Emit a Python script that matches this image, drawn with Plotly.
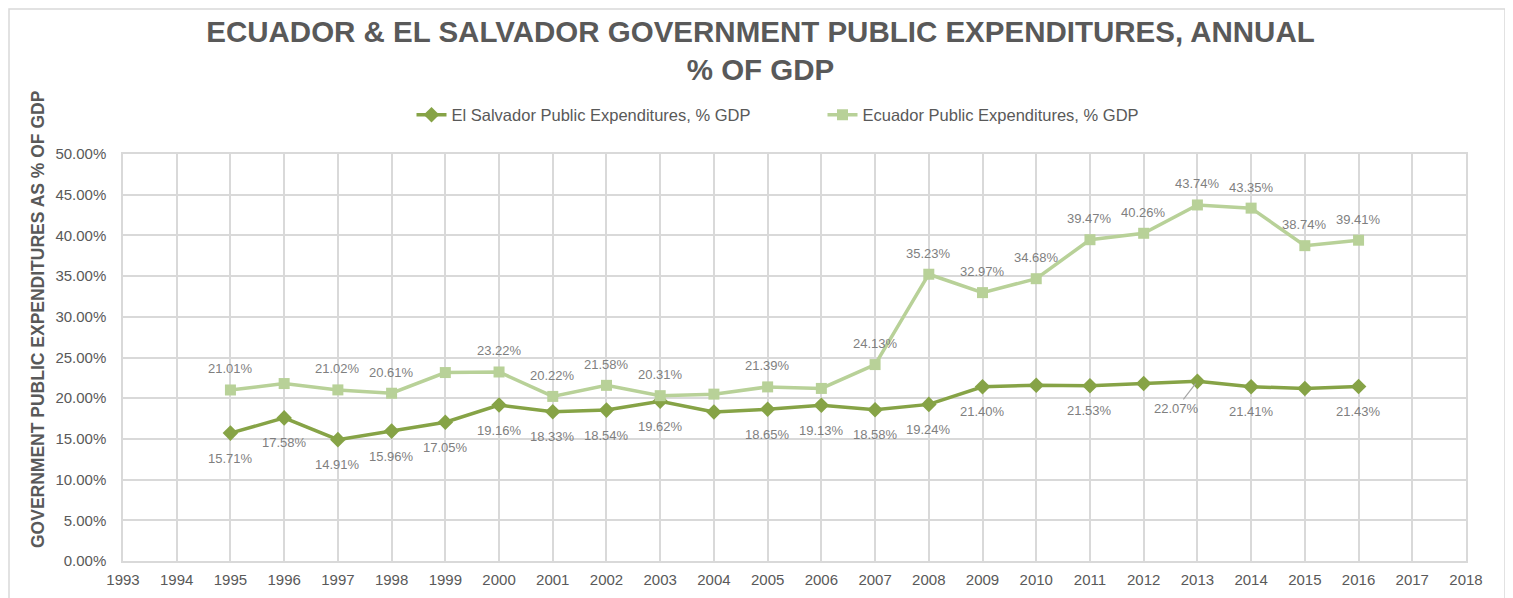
import plotly.graph_objects as go

years = list(range(1995, 2017))
el_salvador = [15.71, 17.58, 14.91, 15.96, 17.05, 19.16, 18.33, 18.54, 19.62, 18.30,
               18.65, 19.13, 18.58, 19.24, 21.40, 21.60, 21.53, 21.80, 22.07, 21.41, 21.20, 21.43]
ecuador = [21.01, 21.80, 21.02, 20.61, 23.15, 23.22, 20.22, 21.58, 20.31, 20.50,
           21.39, 21.20, 24.13, 35.23, 32.97, 34.68, 39.47, 40.26, 43.74, 43.35, 38.74, 39.41]
# which points carry a data label in the original
es_labeled = [1, 1, 1, 1, 1, 1, 1, 1, 1, 0, 1, 1, 1, 1, 1, 0, 1, 0, 0, 1, 0, 1]
ec_labeled = [1, 0, 1, 1, 0, 1, 1, 1, 1, 0, 1, 0, 1, 1, 1, 1, 1, 1, 1, 1, 1, 1]
es_callout_year = 2013

y_ticks = [0, 5, 10, 15, 20, 25, 30, 35, 40, 45, 50]
x_ticks = list(range(1993, 2019))

ES_COLOR = "#86A346"
EC_COLOR = "#B8D198"
LABEL_COLOR = "#7F7F7F"
TEXT_COLOR = "#595959"
GRID = "#D9D9D9"
FONT = "Liberation Sans, Arial, sans-serif"

W, H = 1505, 590
ML, MR, MT, MB = 115, 47, 146, 37
PW, PH = W - ML - MR, H - MT - MB

fig = go.Figure()
fig.add_trace(go.Scatter(
    x=years, y=el_salvador, mode="lines+markers",
    name="El Salvador Public Expenditures, % GDP",
    line=dict(color=ES_COLOR, width=3.5),
    marker=dict(symbol="diamond", size=12, color=ES_COLOR),
))
fig.add_trace(go.Scatter(
    x=years, y=ecuador, mode="lines+markers",
    name="Ecuador Public Expenditures, % GDP",
    line=dict(color=EC_COLOR, width=3.5),
    marker=dict(symbol="square", size=11, color=EC_COLOR),
))

label_font = dict(family=FONT, size=13, color=LABEL_COLOR)
for yr, v, s in zip(years, el_salvador, es_labeled):
    if not s:
        continue
    fig.add_annotation(x=yr, y=v, xref="x", yref="y", text=f"{v:.2f}%",
                       showarrow=False, yshift=-25, font=label_font)
for yr, v, s in zip(years, ecuador, ec_labeled):
    if not s:
        continue
    fig.add_annotation(x=yr, y=v, xref="x", yref="y", text=f"{v:.2f}%",
                       showarrow=False, yshift=21, font=label_font)

i = years.index(es_callout_year)
fig.add_annotation(
    x=es_callout_year, y=el_salvador[i], xref="x", yref="y",
    text=f"{el_salvador[i]:.2f}%", showarrow=True, arrowhead=0,
    arrowcolor="#A6A6A6", arrowwidth=1.2, ax=-21, ay=27, standoff=3,
    font=label_font,
)

fig.add_annotation(
    text="GOVERNMENT PUBLIC EXPENDITURES AS % OF GDP",
    xref="paper", yref="paper", x=-85 / PW, y=(H - MB - 311) / PH, textangle=-90,
    showarrow=False, xanchor="center", yanchor="middle",
    font=dict(family=FONT, size=17.5, color=TEXT_COLOR, weight="bold"),
)

# chart border
fig.add_shape(type="rect", xref="paper", yref="paper",
              x0=(1 - ML) / PW, x1=(1497 - ML) / PW,
              y0=(H - MB - 620) / PH, y1=(H - MB - 1) / PH,
              line=dict(color="#D9D9D9", width=1.5), fillcolor="rgba(0,0,0,0)")

fig.update_layout(
    width=W, height=H, autosize=False,
    margin=dict(l=ML, r=MR, t=MT, b=MB, autoexpand=False),
    paper_bgcolor="white", plot_bgcolor="white",
    title=dict(
        text="ECUADOR & EL SALVADOR GOVERNMENT PUBLIC EXPENDITURES, ANNUAL<br>% OF GDP",
        x=0.5, xanchor="center", xref="container",
        y=1 - 34 / H, yanchor="top", yref="container",
        font=dict(family=FONT, size=29.5, color=TEXT_COLOR, weight="bold"),
    ),
    legend=dict(
        orientation="h", x=0.5 + 28 / PW, xanchor="center",
        y=1 + 39 / PH, yanchor="middle",
        font=dict(family=FONT, size=16.5, color=TEXT_COLOR),
        itemwidth=30, traceorder="normal",
        entrywidth=366, entrywidthmode="pixels",
    ),
    showlegend=True,
)

fig.update_xaxes(
    range=[1993, 2018], tickmode="array", tickvals=x_ticks,
    ticktext=[str(t) for t in x_ticks],
    showgrid=True, gridcolor=GRID, gridwidth=1.5,
    showline=True, linecolor=GRID, linewidth=1.5, mirror=True,
    zeroline=False, ticks="", ticklabelstandoff=4,
    tickfont=dict(family=FONT, size=15, color=TEXT_COLOR),
)
fig.update_yaxes(
    range=[0, 50], tickmode="array", tickvals=y_ticks,
    ticktext=[f"{t:.2f}%" for t in y_ticks],
    showgrid=True, gridcolor=GRID, gridwidth=1.5,
    showline=True, linecolor=GRID, linewidth=1.5, mirror=True,
    zeroline=False, ticks="", ticklabelstandoff=12,
    tickfont=dict(family=FONT, size=15, color=TEXT_COLOR),
)

fig.write_html("out.html")
